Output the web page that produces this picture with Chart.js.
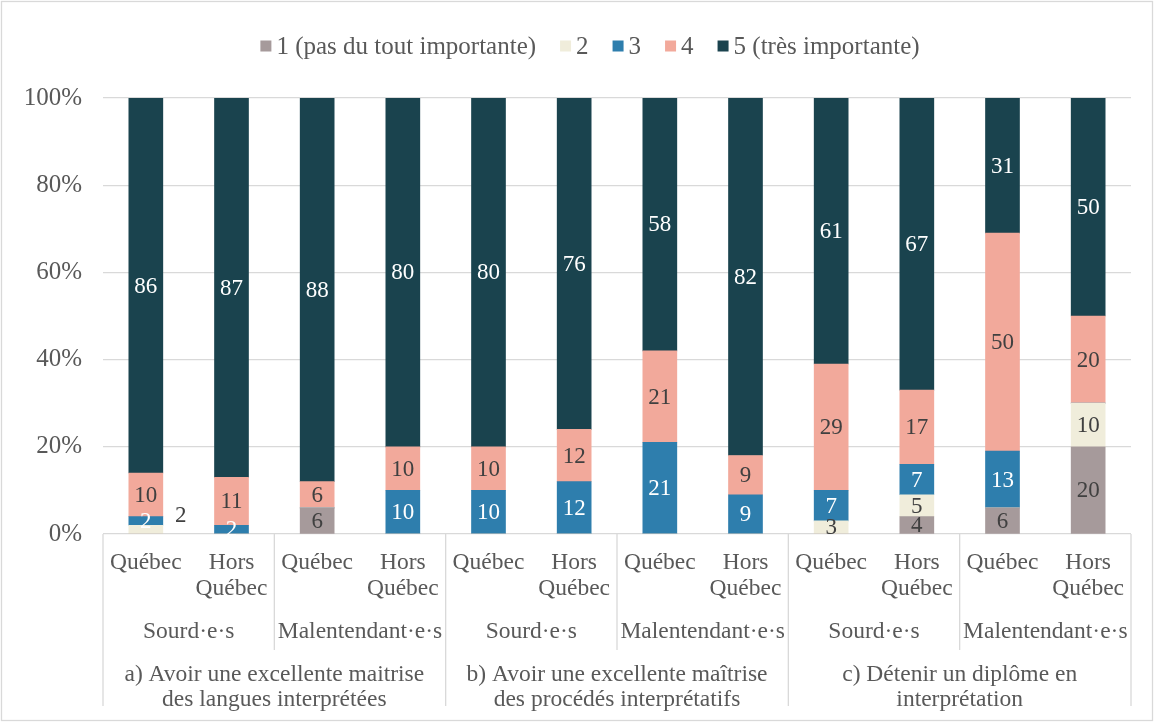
<!DOCTYPE html>
<html>
<head>
<meta charset="utf-8">
<script src="https://cdn.jsdelivr.net/npm/chart.js@4/dist/chart.umd.min.js"></script>
<style>
  html, body { margin: 0; padding: 0; background: #fff; }
  #wrap { width: 1154px; height: 723px; position: relative; }
</style>
</head>
<body>
<div id="wrap"><canvas id="c" width="1154" height="723"></canvas></div>
<script>
// ---- Data ----
const categories = ["Québec", "Hors Québec", "Québec", "Hors Québec", "Québec", "Hors Québec",
                    "Québec", "Hors Québec", "Québec", "Hors Québec", "Québec", "Hors Québec"];
const profiles = ["Sourd·e·s", "Malentendant·e·s", "Sourd·e·s", "Malentendant·e·s", "Sourd·e·s", "Malentendant·e·s"];
const questions = [
  ["a) Avoir une excellente maitrise", "des langues interprétées"],
  ["b) Avoir une excellente maîtrise", "des procédés interprétatifs"],
  ["c) Détenir un diplôme en", "interprétation"]
];
const seriesNames = ["1 (pas du tout importante)", "2", "3", "4", "5 (très importante)"];
const s1 = [0, 0, 6, 0, 0, 0, 0, 0, 0, 4, 6, 20];
const s2 = [2, 0, 0, 0, 0, 0, 0, 0, 3, 5, 0, 10];
const s3 = [2, 2, 0, 10, 10, 12, 21, 9, 7, 7, 13, 0];
const s4 = [10, 11, 6, 10, 10, 12, 21, 9, 29, 17, 50, 20];
const s5 = [86, 87, 88, 80, 80, 76, 58, 82, 61, 67, 31, 50];
const yTicks = [0, 20, 40, 60, 80, 100];

// ---- Styles ----
const colors = ["#A69A9B", "#F0EDDB", "#2E7EAD", "#F2A99B", "#1A434E"];
const labelColors = ["#404040", "#404040", "#FFFFFF", "#404040", "#FFFFFF"];
const FONT = '"Liberation Serif", "Times New Roman", serif';
const TXT = "#595959";
const LINE = "#D9D9D9";
// manually moved label (dataset 1, bar 0) as in the reference
const movedLabels = [{ ds: 1, idx: 0, dx: 35, dy: -14 }];

const values = [s1, s2, s3, s4, s5];
const datasets = values.map((v, i) => ({
  label: seriesNames[i],
  data: v,
  backgroundColor: colors[i],
  borderWidth: 0,
  barThickness: 34
}));

const overlay = {
  id: "overlay",
  afterDatasetsDraw(chart) {
    const ctx = chart.ctx;
    ctx.save();
    ctx.font = "23px " + FONT;
    ctx.textAlign = "center";
    ctx.textBaseline = "middle";
    chart.data.datasets.forEach((ds, di) => {
      const meta = chart.getDatasetMeta(di);
      meta.data.forEach((bar, i) => {
        const v = ds.data[i];
        if (!v) return;
        let x = bar.x, y = (bar.y + bar.base) / 2;
        const mv = movedLabels.find(m => m.ds === di && m.idx === i);
        ctx.fillStyle = labelColors[di];
        if (mv) { x += mv.dx; y += mv.dy; ctx.fillStyle = "#404040"; }
        ctx.fillText(String(v), x, y + 1);
      });
    });
    ctx.restore();
  },
  afterDraw(chart) {
    const ctx = chart.ctx;
    const xs = chart.scales.x;
    const area = chart.chartArea;
    const n = categories.length;
    const step = (area.right - area.left) / n;
    const bottom = area.bottom;
    ctx.save();
    // outer border
    ctx.strokeStyle = LINE;
    ctx.lineWidth = 1.3;
    ctx.strokeRect(1.5, 1.5, 1151, 719);
    // axis separators
    for (let k = 0; k <= n; k++) {
      if (k % 2 === 1) continue;
      const x = area.left + k * step;
      const yEnd = (k % 4 === 0) ? 706 : 650;
      ctx.beginPath();
      ctx.moveTo(x, bottom);
      ctx.lineTo(x, yEnd);
      ctx.stroke();
    }
    // category labels
    ctx.fillStyle = TXT;
    ctx.font = "23.5px " + FONT;
    ctx.textAlign = "center";
    ctx.textBaseline = "middle";
    categories.forEach((c, i) => {
      const x = xs.getPixelForValue(i);
      const parts = c === "Hors Québec" ? ["Hors", "Québec"] : [c];
      parts.forEach((p, j) => ctx.fillText(p, x, 563 + j * 26));
    });
    profiles.forEach((p, i) => {
      const x = area.left + (i * 2 + 1) * step;
      ctx.fillText(p, x, 632);
    });
    questions.forEach((q, i) => {
      const x = area.left + (i * 4 + 2) * step;
      q.forEach((line, j) => ctx.fillText(line, x, 675 + j * 25));
    });
    // legend
    ctx.font = "25px " + FONT;
    const box = 11, gapBT = 5, gapItem = 24;
    ctx.textAlign = "left";
    const widths = seriesNames.map(s => ctx.measureText(s).width);
    let total = 0;
    widths.forEach((w, i) => { total += box + gapBT + w + (i < widths.length - 1 ? gapItem : 0); });
    let lx = 590 - total / 2;
    const ly = 46;
    seriesNames.forEach((s, i) => {
      ctx.fillStyle = colors[i];
      ctx.fillRect(lx, ly - box / 2, box, box);
      ctx.fillStyle = TXT;
      ctx.fillText(s, lx + box + gapBT, ly + 1);
      lx += box + gapBT + widths[i] + gapItem;
    });
    ctx.restore();
  }
};

new Chart(document.getElementById("c"), {
  type: "bar",
  data: { labels: categories, datasets },
  plugins: [overlay],
  options: {
    responsive: false,
    animation: false,
    devicePixelRatio: 1,
    layout: { padding: { top: 98, bottom: 189, left: 0, right: 23 } },
    plugins: { legend: { display: false }, tooltip: { enabled: false } },
    scales: {
      x: {
        stacked: true,
        display: false,
        grid: { display: false }
      },
      y: {
        stacked: true,
        min: 0,
        max: 100,
        afterFit(scale) { scale.width = 103; },
        afterBuildTicks(scale) { scale.ticks = yTicks.map(v => ({ value: v })); },
        ticks: {
          padding: 21,
          color: TXT,
          font: { family: FONT, size: 25 },
          callback: v => v + "%"
        },
        grid: { color: LINE, lineWidth: 1.3, drawTicks: false },
        border: { display: false }
      }
    }
  }
});
</script>
</body>
</html>
